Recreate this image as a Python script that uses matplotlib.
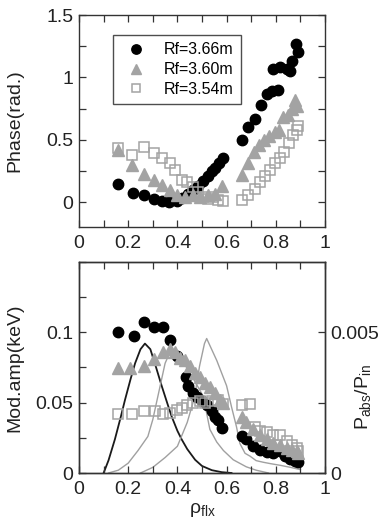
import numpy as np
import matplotlib
matplotlib.use("Agg")
import matplotlib.pyplot as plt
from matplotlib.ticker import MultipleLocator, FixedLocator

# ── Phase profiles (top panel) ──────────────────────────────────────────────
rho_366_ph = [0.157, 0.218, 0.266, 0.306, 0.336, 0.367, 0.40, 0.42, 0.444, 0.465,
              0.485, 0.505, 0.526, 0.54, 0.553, 0.57, 0.584,
              0.661, 0.686, 0.715, 0.74, 0.763, 0.786, 0.81, 0.79, 0.817,
              0.845, 0.858, 0.867, 0.882, 0.891]
phase_366 = [0.142, 0.072, 0.054, 0.027, 0.008, 0.0, 0.008, 0.03, 0.067, 0.094,
             0.13, 0.17, 0.21, 0.25, 0.276, 0.31, 0.35,
             0.50, 0.60, 0.67, 0.78, 0.87, 0.89, 0.90, 1.07, 1.08,
             1.07, 1.05, 1.13, 1.27, 1.20]

rho_360_ph = [0.157, 0.214, 0.266, 0.306, 0.336, 0.37, 0.40, 0.43, 0.465, 0.49,
              0.526, 0.553, 0.583,
              0.661, 0.688, 0.711, 0.733, 0.752, 0.772, 0.797, 0.813, 0.828,
              0.848, 0.865, 0.878, 0.888]
phase_360 = [0.42, 0.295, 0.228, 0.174, 0.134, 0.10, 0.06, 0.04, 0.054, 0.04,
             0.054, 0.067, 0.126,
             0.22, 0.31, 0.40, 0.46, 0.50, 0.53, 0.56, 0.58, 0.68,
             0.70, 0.75, 0.82, 0.77]

rho_354_ph = [0.157, 0.214, 0.266, 0.306, 0.336, 0.37, 0.39, 0.417, 0.44, 0.465,
              0.485, 0.505, 0.526, 0.546, 0.566, 0.587,
              0.661, 0.688, 0.715, 0.736, 0.756, 0.776, 0.797, 0.817, 0.833,
              0.855, 0.871, 0.885, 0.891]
phase_354 = [0.43, 0.38, 0.44, 0.39, 0.35, 0.31, 0.255, 0.174, 0.16, 0.12,
             0.08, 0.04, 0.027, 0.04, 0.013, 0.005,
             0.013, 0.06, 0.107, 0.16, 0.21, 0.255, 0.31, 0.35, 0.40,
             0.47, 0.536, 0.576, 0.61]

# ── Modulation amplitude profiles (bottom panel) ────────────────────────────
rho_366_amp = [0.157, 0.224, 0.266, 0.306, 0.34, 0.37, 0.40, 0.435, 0.444, 0.462,
               0.478, 0.499, 0.519, 0.539, 0.553, 0.566, 0.583,
               0.661, 0.68, 0.709, 0.736, 0.763, 0.79, 0.817, 0.837, 0.858,
               0.878, 0.891]
amp_366 = [0.100, 0.0976, 0.1076, 0.104, 0.104, 0.0945, 0.083, 0.068, 0.062, 0.057,
           0.054, 0.051, 0.048, 0.044, 0.040, 0.038, 0.032,
           0.026, 0.024, 0.019, 0.0167, 0.015, 0.014, 0.0155, 0.012, 0.010,
           0.0088, 0.008]

rho_360_amp = [0.157, 0.207, 0.266, 0.306, 0.343, 0.37, 0.39, 0.41, 0.43, 0.45,
               0.472, 0.49, 0.512, 0.533, 0.553, 0.573, 0.587,
               0.661, 0.68, 0.709, 0.736, 0.763, 0.79, 0.817, 0.844, 0.864,
               0.885, 0.891]
amp_360 = [0.075, 0.075, 0.076, 0.081, 0.086, 0.088, 0.086, 0.082, 0.080, 0.076,
           0.071, 0.068, 0.064, 0.061, 0.057, 0.052, 0.050,
           0.040, 0.036, 0.031, 0.027, 0.024, 0.021, 0.020, 0.018, 0.0167,
           0.0155, 0.014]

rho_354_amp = [0.157, 0.214, 0.266, 0.309, 0.34, 0.37, 0.397, 0.417, 0.44, 0.465,
               0.49, 0.512, 0.54, 0.566, 0.587,
               0.661, 0.695, 0.715, 0.736, 0.763, 0.79, 0.817, 0.844, 0.864,
               0.885, 0.891]
amp_354 = [0.042, 0.042, 0.044, 0.044, 0.042, 0.043, 0.045, 0.046, 0.048, 0.0495,
           0.051, 0.050, 0.051, 0.052, 0.049,
           0.048, 0.049, 0.033, 0.030, 0.029, 0.027, 0.027, 0.023, 0.020,
           0.018, 0.0155]

# ── Absorbed power profiles P_abs/P_in (right axis) ─────────────────────────
rho_pabs_366 = [0.10, 0.12, 0.146, 0.17, 0.187, 0.21, 0.228, 0.25, 0.268, 0.29,
                0.31, 0.336, 0.36, 0.377, 0.40, 0.417, 0.44, 0.472, 0.50, 0.54,
                0.58, 0.62]
pabs_366 = [0.0, 0.00045, 0.0012, 0.0020, 0.0026, 0.00335, 0.0039, 0.0044, 0.0046, 0.0044,
            0.00385, 0.0031, 0.00245, 0.0020, 0.0015, 0.0012, 0.00085, 0.00047, 0.00025, 0.0001,
            0.00003, 0.0]

rho_pabs_360 = [0.12, 0.16, 0.20, 0.24, 0.28, 0.30, 0.32, 0.35, 0.37, 0.39,
                0.42, 0.465, 0.505, 0.532, 0.56, 0.587, 0.627, 0.68, 0.72, 0.77]
pabs_360 = [0.0, 0.0001, 0.00035, 0.0008, 0.0013, 0.0019, 0.0027, 0.0039, 0.0043, 0.0043,
            0.0040, 0.00335, 0.00273, 0.00155, 0.0011, 0.0008, 0.00047, 0.00022, 0.0001, 0.0]

rho_pabs_354 = [0.25, 0.30, 0.35, 0.40, 0.44, 0.47, 0.49, 0.51, 0.519, 0.56,
                0.60, 0.62, 0.64, 0.654, 0.675, 0.695, 0.72, 0.75, 0.78, 0.82,
                0.86, 0.90]
pabs_354 = [0.0, 0.0002, 0.00055, 0.00095, 0.0018, 0.0027, 0.0038, 0.0046, 0.00478, 0.0040,
            0.0031, 0.00235, 0.00165, 0.00105, 0.0007, 0.0006, 0.00044, 0.00038, 0.00033, 0.00027,
            0.0002, 0.00012]

legend_labels = ["Rf=3.66m", "Rf=3.60m", "Rf=3.54m"]
x_ticks = [0, 0.2, 0.4, 0.6, 0.8, 1]
x_ticklabels = ["0", "0.2", "0.4", "0.6", "0.8", "1"]


def style_axis(ax):
    for sp in ax.spines.values():
        sp.set_linewidth(1.0)
        sp.set_color("#333333")
    ax.tick_params(which="both", direction="in", length=5, width=0.9,
                   color="#333333", labelsize=14, labelcolor="#222222")


def main() -> None:
    plt.rcParams["font.family"] = ["Liberation Sans", "DejaVu Sans"]
    plt.rcParams["mathtext.fontset"] = "custom"
    plt.rcParams["mathtext.rm"] = "Liberation Sans"

    fig = plt.figure(figsize=(3.8, 5.23), dpi=100)
    ax1 = fig.add_axes([79 / 380, 1 - 227 / 523, 246 / 380, 212 / 523])
    ax2 = fig.add_axes([79 / 380, 1 - 473 / 523, 246 / 380, 211 / 523])

    grey = "#a3a3a3"
    circ = dict(marker="o", ls="none", ms=7.5, mfc="black", mec="black")
    tri = dict(marker="^", ls="none", ms=8.5, mfc=grey, mec=grey)
    sq = dict(marker="s", ls="none", ms=6.5, mfc="none", mec=grey, mew=1.1)

    # ── Top panel: phase ─────────────────────────────────────────────────────
    ax1.plot(rho_366_ph, phase_366, label=legend_labels[0], **circ)
    ax1.plot(rho_360_ph, phase_360, label=legend_labels[1], **tri)
    ax1.plot(rho_354_ph, phase_354, label=legend_labels[2], **sq)
    ax1.set_xlim(0, 1)
    ax1.set_ylim(-0.2, 1.5)
    ax1.xaxis.set_major_locator(FixedLocator(x_ticks))
    ax1.set_xticklabels(x_ticklabels)
    ax1.xaxis.set_minor_locator(MultipleLocator(0.1))
    ax1.yaxis.set_major_locator(FixedLocator([0, 0.5, 1, 1.5]))
    ax1.set_yticklabels(["0", "0.5", "1", "1.5"])
    ax1.yaxis.set_minor_locator(MultipleLocator(0.25))
    style_axis(ax1)
    ax1.tick_params(which="both", top=True, right=True)
    ax1.tick_params(axis="x", pad=6)
    ax1.tick_params(axis="y", pad=4)
    ax1.set_ylabel("Phase(rad.)", fontsize=14, color="#222222")
    ax1.yaxis.set_label_coords(-0.225, 0.5)

    leg = ax1.legend(loc="upper left", bbox_to_anchor=(0.138, 0.905),
                     borderaxespad=0, fontsize=11.5, frameon=True, fancybox=False,
                     handletextpad=0.75, handlelength=2.0, borderpad=0.45,
                     labelspacing=0.3, markerscale=0.9)
    leg.get_frame().set_edgecolor("#222222")
    leg.get_frame().set_linewidth(1.0)

    # ── Bottom panel: modulation amplitude + absorbed power ─────────────────
    ax3 = ax2.twinx()
    ax3.plot(rho_pabs_366, pabs_366, color="#1a1a1a", lw=1.3)
    ax3.plot(rho_pabs_360, pabs_360, color="#a0a0a0", lw=1.0)
    ax3.plot(rho_pabs_354, pabs_354, color="#a0a0a0", lw=1.0)
    ax3.set_ylim(0, 0.0075)
    ax3.yaxis.set_major_locator(FixedLocator([0, 0.0025, 0.005]))
    ax3.set_yticklabels(["0", "", "0.005"])
    style_axis(ax3)
    ax3.tick_params(axis="y", pad=4)
    ax3.set_ylabel("P$_{\\mathregular{abs}}$/P$_{\\mathregular{in}}$",
                   fontsize=14, color="#222222")
    ax3.yaxis.set_label_coords(1.115, 0.36)

    ax2.set_zorder(ax3.get_zorder() + 1)
    ax2.patch.set_visible(False)
    ax2.plot(rho_366_amp, amp_366, **circ)
    ax2.plot(rho_360_amp, amp_360, **tri)
    ax2.plot(rho_354_amp, amp_354, **sq)
    ax2.set_xlim(0, 1)
    ax2.set_ylim(0, 0.15)
    ax2.xaxis.set_major_locator(FixedLocator(x_ticks))
    ax2.set_xticklabels(x_ticklabels)
    ax2.xaxis.set_minor_locator(MultipleLocator(0.1))
    ax2.yaxis.set_major_locator(FixedLocator([0, 0.05, 0.1]))
    ax2.set_yticklabels(["0", "0.05", "0.1"])
    ax2.yaxis.set_minor_locator(MultipleLocator(0.025))
    style_axis(ax2)
    ax2.tick_params(which="both", top=True, right=False)
    ax2.tick_params(axis="x", pad=6)
    ax2.tick_params(axis="y", pad=4)
    ax2.set_ylabel("Mod.amp(keV)", fontsize=14, color="#222222")
    ax2.yaxis.set_label_coords(-0.225, 0.5)
    ax2.set_xlabel("ρ$_{\\mathregular{flx}}$", fontsize=14, color="#222222",
                   labelpad=2)

    fig.savefig("out.png", dpi=100)
    plt.close(fig)


if __name__ == "__main__":
    main()
